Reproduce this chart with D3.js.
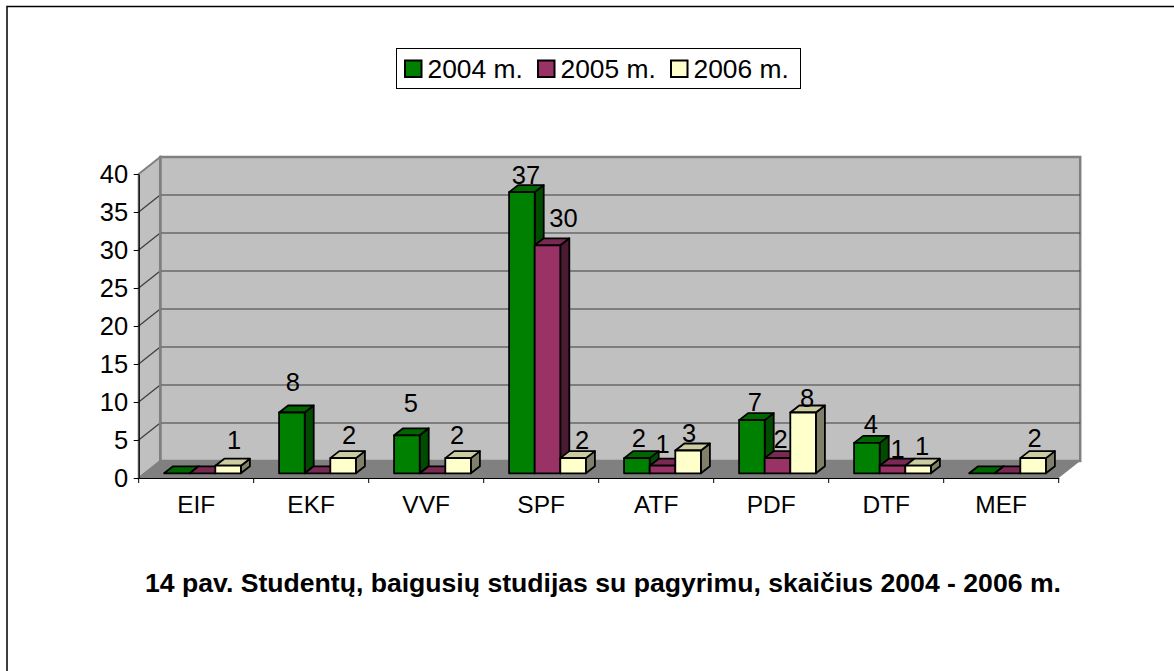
<!DOCTYPE html>
<html>
<head>
<meta charset="utf-8">
<script src="https://cdn.jsdelivr.net/npm/d3@7/dist/d3.min.js"></script>
<style>
  html, body { margin: 0; padding: 0; background: #fff; }
  text { font-family: "Liberation Sans", Arial, sans-serif; fill: #000; }
</style>
</head>
<body>
<div id="chart"></div>
<script>
const categories = ["EIF", "EKF", "VVF", "SPF", "ATF", "PDF", "DTF", "MEF"];
const years = ["2004 m.", "2005 m.", "2006 m."];
const v2004 = [0, 8, 5, 37, 2, 7, 4, 0];
const v2005 = [0, 0, 0, 30, 1, 2, 1, 0];
const v2006 = [1, 2, 2, 2, 3, 8, 1, 2];
const yTicks = [0, 5, 10, 15, 20, 25, 30, 35, 40];
const caption = "14 pav. Studentų, baigusių studijas su pagyrimu, skaičius 2004 - 2006 m.";

const seriesValues = [v2004, v2005, v2006];
const front = ["#008000", "#993366", "#ffffcc"];
const tops = ["#006600", "#7a2952", "#cccca3"];
const sides = ["#004d00", "#4d1a33", "#80806a"];

// the labels were dragged by hand in the original, so nudge each one from its bar
const labelNudge = {
    "EIF2": [6, -17], "EKF0": [1, -22], "EKF2": [6, -14], "VVF0": [4, -23], "VVF2": [-1, -14],
    "SPF0": [4, -8], "SPF1": [16, -18], "SPF2": [9, -9],
    "ATF0": [2, -11], "ATF1": [0, -13], "ATF2": [1, -9],
    "PDF0": [3, -9], "PDF1": [3, -10], "PDF2": [4, -6],
    "DTF0": [4, -10], "DTF1": [5, -8], "DTF2": [4, -11], "MEF2": [1.5, -10.7]
};

const width = 1174, height = 671;
const svg = d3.select("#chart").append("svg")
    .attr("width", width)
    .attr("height", height)
    .style("display", "block");

// page frame, runs off the right and bottom edge
svg.append("path")
    .attr("d", "M1174,6.5H7V671")
    .attr("fill", "none").attr("stroke", "#000").attr("stroke-width", 1.5);

// 3d offset of the back wall
const dx = 21.5, dy = -17;

let x = d3.scaleBand().domain(categories).range([138.7, 1058.7]);
let y = d3.scaleLinear().domain([0, 40]).range([478, 174]);
let inner = d3.scaleBand().domain(d3.range(3)).range([0, 76.8]);

// walls
const x0 = x.range()[0], x1 = x.range()[1];
const y0 = y(0), yTop = y(40);

svg.append("polygon")
    .attr("points", [[x0 + dx, yTop + dy], [x1 + dx, yTop + dy], [x1 + dx, y0 + dy], [x0 + dx, y0 + dy]].join(" "))
    .attr("fill", "#c0c0c0").attr("stroke", "#808080").attr("stroke-width", 2.5);
svg.append("polygon")
    .attr("points", [[x0, yTop], [x0 + dx, yTop + dy], [x0 + dx, y0 + dy], [x0, y0]].join(" "))
    .attr("fill", "#c0c0c0").attr("stroke", "#808080").attr("stroke-width", 2);
svg.append("polygon")
    .attr("points", [[x0, y0], [x0 + dx, y0 + dy], [x1 + dx, y0 + dy], [x1, y0]].join(" "))
    .attr("fill", "#808080");

// gridlines, back wall and side wall
const grid = svg.append("g").attr("stroke", "#3c3c3c").attr("stroke-width", 1.2);
grid.selectAll("line.back")
    .data(yTicks.filter(d => d > 0 && d < 40))
    .enter().append("line").attr("class", "back")
    .attr("x1", x0 + dx).attr("x2", x1 + dx)
    .attr("y1", d => y(d) + dy).attr("y2", d => y(d) + dy);
grid.selectAll("line.side")
    .data(yTicks.filter(d => d > 0 && d < 40))
    .enter().append("line").attr("class", "side")
    .attr("x1", x0).attr("x2", x0 + dx)
    .attr("y1", d => y(d)).attr("y2", d => y(d) + dy);
svg.append("line")
    .attr("x1", x0 + dx).attr("x2", x0 + dx)
    .attr("y1", yTop + dy).attr("y2", y0 + dy)
    .attr("stroke", "#808080").attr("stroke-width", 2.5);

// axes
svg.append("g")
    .attr("transform", "translate(0," + y0 + ")")
    .call(d3.axisBottom(x).tickValues([]).tickSize(0))
    .call(g => g.select(".domain").attr("stroke", "#000").attr("stroke-width", 1.2));
svg.append("g").selectAll("line")
    .data(d3.range(categories.length + 1))
    .enter().append("line")
    .attr("x1", i => x0 + i * x.step()).attr("x2", i => x0 + i * x.step())
    .attr("y1", y0).attr("y2", y0 + 5)
    .attr("stroke", "#000");
svg.append("g")
    .attr("transform", "translate(" + x0 + ",0)")
    .call(d3.axisLeft(y).tickValues(yTicks).tickSize(5).tickSizeOuter(0).tickPadding(5.5))
    .call(g => g.select(".domain").attr("stroke", "#000").attr("stroke-width", 1.2))
    .call(g => g.selectAll("text").attr("font-size", 25.5).style("font-family", '"Liberation Sans", Arial, sans-serif'));

// category labels
svg.append("g").selectAll("text")
    .data(categories)
    .enter().append("text")
    .attr("x", d => x(d) + x.bandwidth() / 2)
    .attr("y", 513)
    .attr("text-anchor", "middle")
    .attr("font-size", 24.5)
    .text(d => d);

// bars, drawn left to right so that neighbours overlap like in the 3d original
const barDx = 6.3, barDy = -4.7, depthX = 9, depthY = -7;
const gap = (x.step() - inner.range()[1]) / 2;
const bars = svg.append("g").attr("stroke", "#000").attr("stroke-width", 1.8).attr("stroke-linejoin", "round");
const labels = [];
categories.forEach(function (c, ci) {
    seriesValues.forEach(function (vals, si) {
        const v = vals[ci];
        const bx = x(c) + gap + barDx + inner(si);
        const bw = inner.bandwidth();
        const by = y(v) + barDy;
        const base = y(0) + barDy;
        bars.append("polygon")
            .attr("points", [[bx + bw, by], [bx + bw + depthX, by + depthY], [bx + bw + depthX, base + depthY], [bx + bw, base]].join(" "))
            .attr("fill", sides[si]);
        bars.append("polygon")
            .attr("points", [[bx, by], [bx + depthX, by + depthY], [bx + bw + depthX, by + depthY], [bx + bw, by]].join(" "))
            .attr("fill", tops[si]);
        bars.append("rect")
            .attr("x", bx).attr("y", by).attr("width", bw).attr("height", base - by)
            .attr("fill", front[si]);
        if (v > 0) {
            const n = labelNudge[c + si];
            labels.push({ v: v, x: bx + bw / 2 + n[0], y: by + n[1] });
        }
    });
});

// value labels
svg.append("g").selectAll("text")
    .data(labels)
    .enter().append("text")
    .attr("x", d => d.x)
    .attr("y", d => d.y)
    .attr("text-anchor", "middle")
    .attr("font-size", 25.5)
    .text(d => d.v);

// legend
const legend = svg.append("g");
legend.append("rect")
    .attr("x", 396.5).attr("y", 48.5).attr("width", 404).attr("height", 40)
    .attr("fill", "#fff").attr("stroke", "#000");
const legendX = d3.scalePoint().domain(years).range([405, 671]);
years.forEach(function (t, i) {
    legend.append("rect")
        .attr("x", legendX(t)).attr("y", 60.5).attr("width", 16.5).attr("height", 16.5)
        .attr("fill", front[i]).attr("stroke", "#000").attr("stroke-width", 2);
    legend.append("text")
        .attr("x", legendX(t) + 22.5).attr("y", 78)
        .attr("font-size", 26.4)
        .text(t);
});

// caption
svg.append("text")
    .attr("x", 603).attr("y", 592)
    .attr("text-anchor", "middle")
    .attr("font-size", 26.6)
    .attr("font-weight", "bold")
    .text(caption);
</script>
</body>
</html>
